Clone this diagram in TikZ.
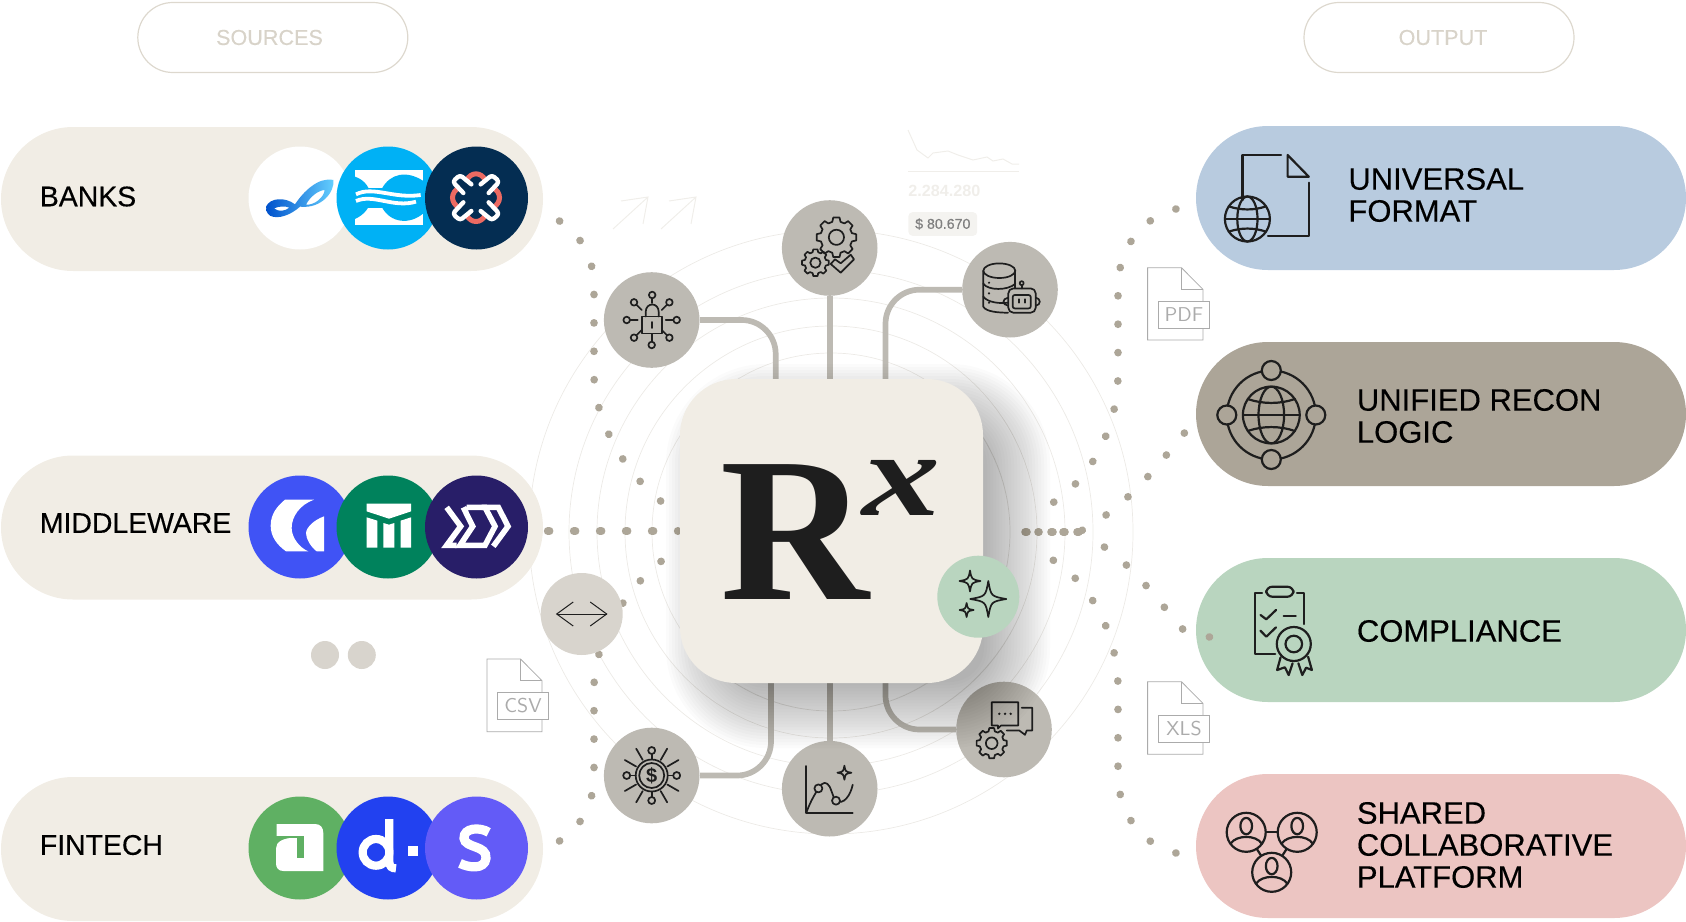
\documentclass[tikz,border=0pt]{standalone}
\usepackage{fontspec}
\setmainfont{Liberation Sans}
\newfontfamily\markfont{Liberation Serif}
\newfontfamily\labelfont[FakeBold=0.3]{Liberation Sans}
\usetikzlibrary{positioning,calc}

\definecolor{sandpill}{HTML}{F1EDE5}
\definecolor{sandline}{HTML}{DDD8CE}
\definecolor{sandtext}{HTML}{D8D3C9}
\definecolor{bluepill}{HTML}{B8CBDF}
\definecolor{brownpill}{HTML}{ACA598}
\definecolor{greenpill}{HTML}{B9D5BF}
\definecolor{pinkpill}{HTML}{ECC5C2}
\definecolor{hubgrey}{HTML}{BDBAB3}
\definecolor{softgrey}{HTML}{D8D4CD}
\definecolor{dotgrey}{HTML}{ADA698}
\definecolor{ringgrey}{HTML}{ECEAE6}
\definecolor{ghostgrey}{HTML}{F0EEEA}
\definecolor{inkline}{HTML}{1E1E1E}
\definecolor{filegrey}{HTML}{ABABAB}
\definecolor{skylogo}{HTML}{00B1F5}
\definecolor{navylogo}{HTML}{042D52}
\definecolor{corallogo}{HTML}{EC6A62}
\definecolor{greenlogo}{HTML}{5FB063}

\newcommand{\gearmark}[3]{
  \draw [iconline] (#1,#2) circle (.38*#3);
  \draw [iconline] ($(#1,#2)+(-15:.8*#3)$) \foreach \a in {0,45,...,315} {
    -- ($(#1,#2)+(\a-9:#3)$) -- ($(#1,#2)+(\a+9:#3)$)
    -- ($(#1,#2)+(\a+15:.8*#3)$) -- ($(#1,#2)+(\a+30:.8*#3)$)} -- cycle;
}
\newcommand{\sparklemark}[3]{
  \draw [iconline] (#1,#2-#3) .. controls (#1+.15*#3,#2-.15*#3) .. (#1+#3,#2)
    .. controls (#1+.15*#3,#2+.15*#3) .. (#1,#2+#3)
    .. controls (#1-.15*#3,#2+.15*#3) .. (#1-#3,#2)
    .. controls (#1-.15*#3,#2-.15*#3) .. cycle;
}
\newcommand{\globemark}[3]{
  \begin{scope}[shift={(#1,#2)}]
    \draw [iconline] (0,0) circle (#3);
    \draw [iconline] (0,0) ellipse (.45*#3 and #3);
    \draw [iconline] (-#3,0) -- (#3,0);
    \draw [iconline] (-.82*#3,-.56*#3) .. controls (-.3*#3,-.38*#3) and (.3*#3,-.38*#3) .. (.82*#3,-.56*#3);
    \draw [iconline] (-.82*#3,.56*#3) .. controls (-.3*#3,.38*#3) and (.3*#3,.38*#3) .. (.82*#3,.56*#3);
  \end{scope}
}
\newcommand{\personmark}[3]{
  \begin{scope}[shift={(#1,#2)}]
    \draw [iconline,fill=pinkpill] (0,0) circle (#3);
    \draw [iconline] (0,-.32*#3) ellipse (.3*#3 and .42*#3);
    \draw [iconline] (-.8*#3,.58*#3) .. controls (-.5*#3,.12*#3) and (.5*#3,.12*#3) .. (.8*#3,.58*#3);
  \end{scope}
}

\begin{document}
\begin{tikzpicture}[x=0.5pt,y=-0.5pt]

% definitions
\tikzstyle{pill} = [rectangle, minimum height=72pt, rounded corners=36pt, inner sep=0pt]
\tikzstyle{headpill} = [rectangle, minimum width=135pt, minimum height=35pt, rounded corners=17.5pt, draw=sandline, line width=.6pt]
\tikzstyle{headlabel} = [inner sep=0pt, text=sandtext, font=\labelfont\fontsize{10.8}{12}\selectfont]
\tikzstyle{sourcelabel} = [anchor=west, inner sep=0pt, text=black, font=\labelfont\fontsize{14.2}{16}\selectfont]
\tikzstyle{outputlabel} = [anchor=west, inner sep=0pt, align=left, text=black, font=\labelfont\fontsize{15.5}{16}\selectfont]
\tikzstyle{logo} = [circle, minimum size=51.5pt, inner sep=0pt]
\tikzstyle{hub} = [circle, minimum size=47.8pt, inner sep=0pt, fill=hubgrey]
\tikzstyle{smallhub} = [circle, minimum size=41pt, inner sep=0pt]
\tikzstyle{link} = [draw=hubgrey, line width=2.85pt, rounded corners=17pt]
\tikzstyle{dotline} = [draw=dotgrey, line width=3.8pt, line cap=round, dash pattern=on .1pt off 14.1pt]
\tikzstyle{dotrow} = [draw=dotgrey, line width=3.8pt, line cap=round, dash pattern=on 1pt off 12pt]
\tikzstyle{ring} = [draw=ringgrey, line width=.35pt]
\tikzstyle{iconline} = [draw=inkline, line width=.85pt, line join=round, line cap=round]
\tikzstyle{fileline} = [draw=filegrey, line width=.4pt]
\tikzstyle{filetag} = [rectangle, draw=filegrey, line width=.4pt, fill=white, minimum width=25.6pt, minimum height=13.6pt, inner sep=0pt, text=filegrey, font=\sffamily\fontsize{10}{10}\selectfont]
\tikzstyle{ghost} = [draw=ghostgrey, line width=.5pt]
\tikzstyle{zoomed} = [x=.16667pt, y=-.16667pt]

\useasboundingbox (0,0) rectangle (1686,921);

% rings behind the core
\foreach \r in {179,206,234,262,302}
  \draw [ring] (831,532) circle (\r);

% faint marks at the top
\draw [ghost] (613,229) -- (648,197) (621,201) -- (648,197) -- (643,224);
\draw [ghost] (661,229) -- (696,197) (669,201) -- (696,197) -- (691,224);
\draw [ghost] (908,171) -- (1019,171);
\draw [ghost] (908,130) -- (917,150) -- (928,158) -- (933,153) -- (948,151) -- (958,155) -- (973,160) -- (987,157) -- (993,161) -- (1003,159) -- (1012,164) -- (1019,164);
\node (total) [anchor=west, inner sep=0pt, text=ghostgrey, font=\bfseries\fontsize{8.1}{10}\selectfont] at (908,190.5) {2.284.280};
\node (amount) [anchor=west, rectangle, rounded corners=2pt, fill=ghostgrey!70, minimum width=34.4pt, minimum height=11.8pt, inner sep=0pt, text=black!50, font=\labelfont\fontsize{7.1}{9}\selectfont] at (908,224) {\$ 80.670};

% headers
\node (sources) [headpill] at (272.8,37.5) {};
\node (output) [headpill] at (1439,37.5) {};
\node (sourcestext) [headlabel] at (269.5,37.5) {SOURCES};
\node (outputtext) [headlabel] at (1443,37.5) {OUTPUT};

% source pills
\node (banks) [pill, fill=sandpill, minimum width=271pt] at (272,199) {};
\node (middleware) [pill, fill=sandpill, minimum width=271pt] at (272,527.5) {};
\node (fintech) [pill, fill=sandpill, minimum width=271pt] at (272,849) {};
\node (bankstext) [sourcelabel] at (39.5,196.5) {BANKS};
\node (middlewaretext) [sourcelabel] at (39.5,523) {MIDDLEWARE};
\node (fintechtext) [sourcelabel] at (39.5,845) {FINTECH};

\node (more1) [circle, fill=softgrey, minimum size=14pt, inner sep=0pt] at (325,655) {};
\node (more2) [circle, fill=softgrey, minimum size=14pt, inner sep=0pt, right=4pt of more1] {};

% output pills
\node (universal) [pill, fill=bluepill, minimum width=245pt] at (1441,198) {};
\node (unified) [pill, fill=brownpill, minimum width=245pt] at (1441,414) {};
\node (compliance) [pill, fill=greenpill, minimum width=245pt] at (1441,630) {};
\node (shared) [pill, fill=pinkpill, minimum width=245pt] at (1441,846) {};
\node (universaltext) [outputlabel] at (1348,195) {UNIVERSAL\\FORMAT};
\node (unifiedtext) [outputlabel] at (1356.5,416) {UNIFIED RECON\\LOGIC};
\node (compliancetext) [outputlabel] at (1356.5,631) {COMPLIANCE};
\node (sharedtext) [outputlabel] at (1356.5,845) {SHARED\\COLLABORATIVE\\PLATFORM};

% logos, banks
\node (bank1) [logo, fill=white] at (300,198) {};
\node (bank2) [logo, fill=skylogo] at (388,198) {};
\node (bank3) [logo, fill=navylogo] at (476.5,198) {};
\begin{scope}[shift={(250,145)},zoomed]
  \shade [left color=blue!60!cyan!80!black, right color=cyan!70!blue!60, even odd rule]
    (48,185) .. controls (60,158) and (105,155) .. (135,178) .. controls (160,140) and (205,95) .. (250,105) .. controls (255,140) and (215,192) .. (150,185) .. controls (125,208) and (85,225) .. (60,212) .. controls (50,205) and (48,195) .. (48,185) -- cycle
    (168,179) .. controls (180,155) and (205,136) .. (224,135) .. controls (222,156) and (195,181) .. (168,179) -- cycle
    (72,190) .. controls (88,183) and (106,183) .. (118,188) .. controls (106,198) and (86,202) .. (72,190) -- cycle;
  \fill [white] (315,75) rectangle (520,240);
  \fill [skylogo] (315,95) .. controls (345,105) and (362,130) .. (362,158) .. controls (362,185) and (345,208) .. (315,222) -- cycle;
  \fill [skylogo] (520,108) .. controls (470,75) and (420,85) .. (395,132) -- (395,185) .. controls (420,235) and (480,240) .. (520,205) -- cycle;
  \fill [skylogo] (345,130) rectangle (430,190);
  \draw [white, line width=1.9pt] (318,148) .. controls (370,122) and (430,162) .. (512,150);
  \draw [white, line width=1.9pt] (318,168) .. controls (370,145) and (430,190) .. (498,170);
  \draw [corallogo, line width=2.5pt] (650,106) .. controls (662,80) and (694,80) .. (706,106);
  \draw [corallogo, line width=2.5pt] (650,210) .. controls (662,236) and (694,236) .. (706,210);
  \draw [corallogo, line width=2.5pt] (630,126) .. controls (600,142) and (600,174) .. (630,190);
  \draw [corallogo, line width=2.5pt] (726,126) .. controls (756,142) and (756,174) .. (726,190);
  \draw [white, line width=2.2pt, line join=round, line cap=round, rounded corners=1.5pt] (664,118) -- (630,90) -- (608,110) -- (640,144);
  \draw [white, line width=2.2pt, line join=round, line cap=round, rounded corners=1.5pt] (692,118) -- (726,90) -- (748,110) -- (716,144);
  \draw [white, line width=2.2pt, line join=round, line cap=round, rounded corners=1.5pt] (664,198) -- (630,226) -- (608,206) -- (640,172);
  \draw [white, line width=2.2pt, line join=round, line cap=round, rounded corners=1.5pt] (692,198) -- (726,226) -- (748,206) -- (716,172);
\end{scope}

% logos, middleware
\node (mid1) [logo, fill={rgb,255:red,64;green,83;blue,245}] at (300,527) {};
\node (mid2) [logo, fill={rgb,255:red,0;green,130;blue,92}] at (388,527) {};
\node (mid3) [logo, fill={rgb,255:red,40;green,30;blue,104}] at (476.5,527) {};
\begin{scope}[shift={(250,473)},zoomed]
  \fill [white] (105,80) -- (192,80) .. controls (150,95) and (125,130) .. (125,165) .. controls (125,195) and (150,225) .. (175,235) -- (108,235) .. controls (80,215) and (62,190) .. (62,158) .. controls (62,125) and (80,100) .. (105,80) -- cycle;
  \fill [white] (222,130) -- (222,235) -- (200,235) .. controls (180,220) and (168,195) .. (168,180) .. controls (170,160) and (195,140) .. (222,130) -- cycle;
  \fill [white] (350,92) -- (483,92) -- (483,115) -- (417,137) -- (350,115) -- cycle;
  \fill [white] (350,133) -- (382,143) -- (382,224) -- (350,224) -- cycle;
  \fill [white] (400,150) -- (417,155) -- (433,150) -- (433,224) -- (400,224) -- cycle;
  \fill [white] (452,143) -- (483,133) -- (483,224) -- (452,224) -- cycle;
  \draw [white, line width=2.8pt, miter limit=5] (590,103) -- (632,160) -- (590,217) -- (620,217);
  \draw [white, line width=2.8pt, miter limit=5] (650,103) -- (705,103) -- (735,160) -- (705,217) -- (630,217) -- (668,160) -- (640,103);
  \draw [white, line width=2.8pt, miter limit=5] (695,103) -- (745,103) -- (774,160) -- (730,220);
\end{scope}

% logos, fintech
\node (fin1) [logo, fill=greenlogo] at (300,848) {};
\node (fin2) [logo, fill={rgb,255:red,34;green,65;blue,240}] at (388,848) {};
\node (fin3) [logo, fill={rgb,255:red,99;green,91;blue,247}] at (476.5,848) {};
\begin{scope}[shift={(250,795)},zoomed]
  \fill [white] (80,87) -- (195,87) .. controls (212,87) and (220,98) .. (220,115) -- (220,228) -- (100,228) .. controls (85,228) and (78,218) .. (78,205) -- (78,160) .. controls (78,140) and (100,128) .. (138,128) -- (80,128) -- cycle;
  \fill [greenlogo] (140,126) rectangle (162,190);
  \draw [greenlogo, line width=.7pt] (78,126) -- (162,126);
  \draw [white, line width=4.1pt] (378,172) circle (40);
  \draw [white, line width=4.1pt] (418,72) -- (418,200) .. controls (418,215) and (425,220) .. (438,220);
  \fill [white] (475,152) rectangle (503,182);
  \draw [white, line width=4.6pt] (716,112) .. controls (690,95) and (640,98) .. (642,130) .. controls (645,160) and (712,150) .. (708,190) .. controls (704,225) and (655,218) .. (630,205);
\end{scope}

% dotted connectors, sources side
\coordinate (banksout) at (559.5,221);
\coordinate (midout) at (547.6,531);
\coordinate (finout) at (559.5,841);
\coordinate (corein1) at (674,511);
\coordinate (corein2) at (678,531);
\coordinate (corein3) at (674,552);
\draw [dotline] (banksout) .. controls (582,236) and (594,258) .. (594,288) -- (594,374) .. controls (594,420) and (625,478) .. (corein1);
\draw [dotrow] (midout) -- (corein2);
\draw [dotline] (finout) .. controls (582,826) and (594,804) .. (594,774) -- (594,688) .. controls (594,642) and (625,584) .. (corein3);

% dotted connectors, output side
\coordinate (coreout1) at (1038,511);
\coordinate (coreout2) at (1079,532);
\coordinate (coreout3) at (1003,532);
\coordinate (coreout4) at (1038,552);
\coordinate (universalin) at (1176,209);
\coordinate (unifiedin) at (1184.4,433);
\coordinate (compliancein) at (1209.5,637);
\coordinate (sharedin) at (1176,853);
\draw [dotline] (universalin) .. controls (1140,218) and (1118,250) .. (1118,288) -- (1118,374) .. controls (1118,430) and (1088,488) .. (coreout1);
\draw [dotline] (unifiedin) .. controls (1160,462) and (1130,505) .. (coreout2);
\draw [dotrow] (coreout2) -- (coreout3);
\draw [dotrow] (1065,532) -- (1038,532);
\draw [dotline] (compliancein) -- (1184.4,631) .. controls (1160,604) and (1130,559) .. (1091,539);
\draw [dotline] (sharedin) .. controls (1140,844) and (1118,812) .. (1118,774) -- (1118,688) .. controls (1118,632) and (1088,574) .. (coreout4);

% file marks
\draw [fileline] (542,692) -- (542,680.7) -- (520.5,659) -- (487,659) -- (487,731.7) -- (542,731.7) -- (542,719);
\draw [fileline] (520.5,659) -- (520.5,680.7) -- (542,680.7);
\node (csv) [filetag] at (523,705.8) {CSV};
\draw [fileline] (1203,301) -- (1203,289.4) -- (1181.4,267.7) -- (1147.6,267.7) -- (1147.6,340) -- (1203,340) -- (1203,328);
\draw [fileline] (1181.4,267.7) -- (1181.4,289.4) -- (1203,289.4);
\node (pdf) [filetag] at (1184,314.6) {PDF};
\draw [fileline] (1203,715) -- (1203,703.4) -- (1181.4,681.7) -- (1147.6,681.7) -- (1147.6,754.3) -- (1203,754.3) -- (1203,742);
\draw [fileline] (1181.4,681.7) -- (1181.4,703.4) -- (1203,703.4);
\node (xls) [filetag] at (1184,728.6) {XLS};

% hubs and links
\node (hublock) [hub] at (651.7,320) {};
\node (hubgear) [hub] at (829.7,248) {};
\node (hubdata) [hub] at (1010,289.7) {};
\node (hubcoin) [hub] at (651.7,775.5) {};
\node (hubchart) [hub] at (829.7,788.7) {};
\node (hubchat) [hub] at (1004,729.5) {};
\coordinate (coretop1) at (775.7,382);
\coordinate (coretop2) at (829.7,382);
\coordinate (coretop3) at (885.5,382);
\coordinate (corebot1) at (771,680);
\coordinate (corebot2) at (829.7,680);
\coordinate (corebot3) at (885.5,680);
\draw [link] (hublock) -| (coretop1);
\draw [link] (hubgear) -- (coretop2);
\draw [link] (hubdata) -| (coretop3);
\draw [link] (hubcoin) -| (corebot1);
\draw [link] (hubchart) -- (corebot2);
\draw [link] (hubchat) -| (corebot3);

% lock mark
\begin{scope}[shift={(hublock)}]
  \draw [iconline] (-9.5,-3.5) rectangle (10.5,13.5);
  \draw [iconline] (-6,-3.5) -- (-6,-8) .. controls (-6,-18) and (7,-18) .. (7,-8) -- (7,-3.5);
  \draw [iconline] (.5,2) -- (.5,8);
  \foreach \a in {0,45,90,135,180,225,315} {
    \draw [iconline] (\a:14) -- (\a:21.5);
    \draw [iconline] (\a:25) circle (3.3);
  }
  \draw [iconline] (.5,-25) circle (3.3);
  \draw [iconline] (.5,-21.7) -- (.5,-17);
\end{scope}

% gear and tick mark
\begin{scope}[shift={(hubgear)}]
  \gearmark{6.7}{-10.7}{20}
  \gearmark{-14.3}{14.7}{13.5}
  \draw [iconline, fill=hubgrey] (1,16) -- (11,24.7) -- (24.3,11.3) -- (21,6.7) -- (11,15.3) -- (5.3,11.3) -- cycle;
\end{scope}

% database and robot mark
\begin{scope}[shift={(hubdata)}]
  \draw [iconline] (-10.7,-19) ellipse (16 and 7.3);
  \draw [iconline] (-26.7,-19) -- (-26.7,17) .. controls (-24,22) and (-12,23) .. (-2,23);
  \draw [iconline] (5.3,-19) -- (5.3,-2);
  \draw [iconline] (-26.7,-6) .. controls (-22,1) and (-2,1) .. (5.3,-6);
  \draw [iconline] (-26.7,7) .. controls (-22,13) and (-10,14) .. (-2,13);
  \fill [inkline] (-21,-7) circle (1.2) (-21,3.7) circle (1.2) (-21,13) circle (1.2);
  \draw [iconline] (-2,8) .. controls (-8,9) and (-8,15) .. (-2,16);
  \draw [iconline] (26,8) .. controls (31,9) and (31,15) .. (26,16);
  \draw [iconline, fill=hubgrey, rounded corners=2.5pt] (-1.7,-1.3) rectangle (25.7,23);
  \draw [iconline, rounded corners=1pt] (2.7,5.3) rectangle (20.7,18.7);
  \draw [iconline] (9.3,9.5) -- (9.3,13) (15,9.5) -- (15,13);
  \draw [iconline] (11.7,-1.3) -- (11.7,-4.5);
  \draw [iconline] (11.7,-6.5) circle (2);
\end{scope}

% coin mark
\begin{scope}[shift={(hubcoin)}]
  \draw [iconline] (0,0) circle (16);
  \draw [iconline] (0,0) circle (12.5);
  \node (coinsign) [inner sep=0pt, text=inkline, font=\bfseries\fontsize{10}{10}\selectfont] at (0,0) {\$};
  \foreach \a in {0,90,180,270} {
    \draw [iconline] (\a:16) -- (\a:21.5);
    \draw [iconline] (\a:25) circle (3.5);
  }
  \foreach \a in {30,60,120,150,210,240,300,330}
    \draw [iconline] (\a:18) -- (\a:31);
\end{scope}

% chart mark
\begin{scope}[shift={(hubchart)}]
  \draw [iconline] (-23.7,-22.7) -- (-23.7,24) -- (23,24);
  \draw [iconline] (-23,23) .. controls (-19,12) and (-14,4) .. (-11.3,0) .. controls (-7,-8) and (-3,-7) .. (0,-2) .. controls (3,5) and (4,10) .. (6.3,12) .. controls (14,17) and (21,6) .. (23,-4);
  \draw [iconline, fill=hubgrey] (-11.3,-.3) circle (4);
  \draw [iconline, fill=hubgrey] (6.3,12) circle (4);
  \sparklemark{14.7}{-16}{7}
\end{scope}

% chat mark
\begin{scope}[shift={(hubchat)}]
  \draw [iconline] (17.7,-21.7) -- (28.3,-21.7) -- (28.3,1) -- (22.7,1) -- (21,5.3) -- (15.3,1) -- (2.7,1);
  \draw [iconline] (-12.3,-27.3) -- (14.3,-27.3) -- (14.3,-4) -- (-3,-4) -- (-6,-1) -- (-6,-4) -- (-12.3,-4) -- cycle;
  \fill [inkline] (-4.7,-15.7) circle (1.3) (1,-15.7) circle (1.3) (6.7,-15.7) circle (1.3);
  \gearmark{-12.3}{13.7}{15.3}
\end{scope}

% soft shadow of the core
\foreach \s in {40,37,...,-26}
  \fill [black, opacity=.014, rounded corners={(60+\s)*.5pt}] (858-152-\s,556-152-\s) rectangle (858+152+\s,556+152+\s);

% the core
\node (core) [rectangle, fill=sandpill, minimum width=151.5pt, minimum height=152pt, rounded corners=28pt, inner sep=0pt] at (831.5,531) {};
\node (coreR) [anchor=base west, inner sep=0pt, text=inkline, font=\markfont\bfseries\fontsize{103}{103}\selectfont] at (720,599) {R};
\node (corex) [anchor=base west, inner sep=0pt, text=inkline, font=\markfont\bfseries\itshape\fontsize{60}{60}\selectfont] at (862,515) {\scalebox{1.3}[1]{x}};

% sparkle badge
\node (hubspark) [smallhub, fill=greenpill] at (978.3,596.7) {};
\begin{scope}[shift={(hubspark)}]
  \sparklemark{10}{2.3}{18}
  \sparklemark{-8.3}{-15.7}{10.5}
  \sparklemark{-11.7}{13.3}{7}
\end{scope}

% swap badge
\node (hubswap) [smallhub, fill=softgrey] at (581.7,614) {};
\begin{scope}[shift={(hubswap)}]
  \draw [draw=inkline, line width=.5pt] (-25,0) -- (25,0);
  \draw [draw=inkline, line width=.5pt] (-8.5,-12) -- (-25,0) -- (-8.5,12);
  \draw [draw=inkline, line width=.5pt] (8.5,-12) -- (25,0) -- (8.5,12);
\end{scope}

% marks in the output pills, a little heavier
\begin{scope}[iconline/.append style={line width=1.1pt}]

% universal format mark
\draw [iconline] (1242.4,200) -- (1242.4,155) -- (1281,155);
\draw [iconline] (1287.6,155) -- (1308.8,176.7) -- (1287.6,176.7) -- cycle;
\draw [iconline] (1308.8,182.7) -- (1308.8,236) -- (1268,236);
\globemark{1247.4}{219}{22.5}

% unified logic mark
\draw [iconline] (1271.3,415) circle (44.5);
\globemark{1271.3}{415}{28.4}
\foreach \a in {0,90,180,270}
  \draw [iconline, fill=brownpill] (1271.3,415) ++(\a:44.5) circle (9.5);

% compliance mark
\draw [iconline] (1304.2,624) -- (1304.2,592.7) -- (1297,592.7);
\draw [iconline] (1262,592.7) -- (1254.7,592.7) -- (1254.7,654.3) -- (1275.2,654.3);
\draw [iconline, rounded corners=3pt] (1266.3,586.7) rectangle (1293.4,596.7);
\draw [iconline] (1260.5,615) -- (1266.3,619.3) -- (1276,610);
\draw [iconline] (1283.7,616) -- (1295.7,616);
\draw [iconline] (1260.5,630.7) -- (1266.3,636.7) -- (1276,627.3);
\draw [iconline] (1280.6,657.3) -- (1277.1,670) -- (1284.9,667.3) -- (1288.7,675) -- (1292.6,663.3);
\draw [iconline] (1298.4,663.3) -- (1302.3,675) -- (1306.1,667.7) -- (1311.9,670) -- (1308.1,656.7);
\draw [iconline] (1293.8,644) circle (17);
\draw [iconline] (1293.8,644) circle (8.3);

% shared platform mark
\draw [iconline] (1246.2,832.3) -- (1297.2,832.3);
\draw [iconline] (1246.2,832.3) -- (1271.7,872.3) -- (1297.2,832.3);
\personmark{1246.2}{832.3}{19.5}
\personmark{1297.2}{832.3}{19.5}
\personmark{1271.7}{872.3}{19.5}

\end{scope}

\end{tikzpicture}
\end{document}
